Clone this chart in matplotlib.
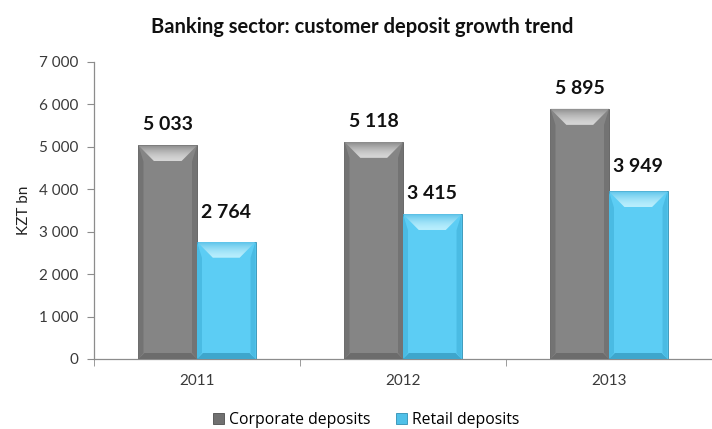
#!/usr/bin/env python3
# -*- coding: utf-8 -*-
"""Banking sector: customer deposit growth trend - bevelled bar chart"""
import matplotlib
matplotlib.use('Agg')
import matplotlib.pyplot as plt
import numpy as np
from matplotlib.colors import to_rgb, LinearSegmentedColormap
from matplotlib.patches import Polygon, Patch
from matplotlib.ticker import FuncFormatter, MultipleLocator

# --- data -------------------------------------------------------------
years = ["2011", "2012", "2013"]
corporate = [5033, 5118, 5895]
retail = [2764, 3415, 3949]
series_names = ["Corporate deposits", "Retail deposits"]

# --- style ------------------------------------------------------------
GRAY = dict(body="#858585", top0="#8a8a8a", top1="#d6d6d6", side="#737373",
            bottom="#6c6c6c", edge="#5a5a5a")
CYAN = dict(body="#5ccdf4", top0="#5ec4ea", top1="#b8eefd", side="#4abbe3",
            bottom="#3ea6cc", edge="#2f8fb3")
BAR_W = 0.284
BEVEL_TOP = 16   # px
BEVEL_BOT = 6    # px
BEVEL_SIDE = 5   # px
FONT = "Lato"

W, H, DPI = 7.12, 4.29, 100
fig = plt.figure(figsize=(W, H), dpi=DPI, facecolor="white")
ax = fig.add_axes([94 / 712, 1 - 359 / 429, (712 - 94) / 712, 297 / 429])
XLIM = (-0.5, 2.5 - 6 / 208)
YLIM = (0, 7000)
ax.set_xlim(*XLIM)
ax.set_ylim(*YLIM)


def _px_to_data(px, py):
    return ax.transData.inverted().transform((px, py))


def _gradient_poly(verts_px, c0, c1):
    """Fill a polygon (display px) with a vertical gradient c0 (top) -> c1 (bottom)."""
    verts = np.array([_px_to_data(x, y) for x, y in verts_px])
    poly = Polygon(verts, closed=True, facecolor="none", edgecolor="none",
                   transform=ax.transData)
    ax.add_patch(poly)
    cmap = LinearSegmentedColormap.from_list("g", [to_rgb(c1), to_rgb(c0)])
    grad = np.linspace(0, 1, 64).reshape(-1, 1) ** 1.6
    xmin, xmax = verts[:, 0].min(), verts[:, 0].max()
    ymin, ymax = verts[:, 1].min(), verts[:, 1].max()
    im = ax.imshow(grad, cmap=cmap, extent=[xmin, xmax, ymin, ymax], origin="lower",
                   aspect="auto", interpolation="bilinear", zorder=3)
    im.set_clip_path(poly)


def _solid_poly(verts_px, color, z=3):
    verts = np.array([_px_to_data(x, y) for x, y in verts_px])
    ax.add_patch(Polygon(verts, closed=True, facecolor=color, edgecolor="none", zorder=z))


def bevel(rect, st):
    x0d, y0d = rect.get_x(), rect.get_y()
    x1d, y1d = x0d + rect.get_width(), y0d + rect.get_height()
    (x0, y0) = ax.transData.transform((x0d, y0d))
    (x1, y1) = ax.transData.transform((x1d, y1d))
    b, s, d = BEVEL_TOP, BEVEL_BOT, BEVEL_SIDE
    # sides
    _solid_poly([(x0, y0), (x0 + d, y0 + s), (x0 + d, y1 - b), (x0, y1)], st["side"])
    _solid_poly([(x1, y0), (x1 - d, y0 + s), (x1 - d, y1 - b), (x1, y1)], st["side"])
    # bottom
    _solid_poly([(x0, y0), (x1, y0), (x1 - s, y0 + s), (x0 + s, y0 + s)], st["bottom"])
    # top highlight
    _gradient_poly([(x0, y1), (x1, y1), (x1 - b, y1 - b), (x0 + b, y1 - b)],
                   st["top0"], st["top1"])


x = np.arange(len(years))
bars_c = ax.bar(x - BAR_W / 2, corporate, BAR_W, color=GRAY["body"],
                edgecolor=GRAY["edge"], linewidth=0.6, zorder=2)
bars_r = ax.bar(x + BAR_W / 2, retail, BAR_W, color=CYAN["body"],
                edgecolor=CYAN["edge"], linewidth=0.6, zorder=2)

for r in bars_c:
    bevel(r, GRAY)
for r in bars_r:
    bevel(r, CYAN)

# value labels
fmt = lambda v: f"{v:,.0f}".replace(",", " ")
offsets_c = [15, 15, 15]
offsets_r = [21, 15, 18]
for bars, vals, offs in ((bars_c, corporate, offsets_c), (bars_r, retail, offsets_r)):
    for r, v, o in zip(bars, vals, offs):
        ax.annotate(fmt(v), (r.get_x() + r.get_width() / 2, v), xytext=(0, o),
                    textcoords="offset points", ha="center", va="center",
                    fontsize=14, fontweight="bold", family=FONT, color="#111111",
                    zorder=5)

ax.set_xlim(*XLIM)
ax.set_ylim(*YLIM)

# axes styling
for sp in ("top", "right"):
    ax.spines[sp].set_visible(False)
for sp in ("left", "bottom"):
    ax.spines[sp].set_color("#8c8c8c")
    ax.spines[sp].set_linewidth(0.9)

ax.yaxis.set_major_locator(MultipleLocator(1000))
ax.yaxis.set_major_formatter(FuncFormatter(lambda v, p: fmt(v)))
ax.tick_params(axis="y", direction="out", length=5, color="#8c8c8c",
               labelsize=11, labelcolor="#3a3a3a", pad=6)
ax.set_xticks(x)
ax.set_xticklabels(years)
ax.set_xticks([-0.5, 0.5, 1.5, 2.5], minor=True)
ax.tick_params(axis="x", which="major", length=0, labelsize=11,
               labelcolor="#3a3a3a", pad=11)
ax.tick_params(axis="x", which="minor", direction="out", length=5, color="#8c8c8c")
for lbl in ax.get_xticklabels() + ax.get_yticklabels():
    lbl.set_family(FONT)

ax.set_ylabel("KZT bn", fontsize=11, family=FONT, color="#222222", labelpad=6)

fig.text(362 / 712, 1 - 27 / 429, "Banking sector: customer deposit growth trend",
         ha="center", va="center", fontsize=14.5, fontweight="bold", family=FONT,
         color="#111111")

handles = [Patch(facecolor="#707070", edgecolor="#4e4e4e", linewidth=0.6),
           Patch(facecolor="#4fc0e8", edgecolor="#2f8fb3", linewidth=0.6)]
fig.legend(handles, series_names, loc="center", bbox_to_anchor=(366 / 712, 1 - 420 / 429),
           ncol=2, frameon=False, handlelength=0.75, handleheight=0.75,
           handletextpad=0.3, columnspacing=1.6,
           prop={"family": "Open Sans", "size": 11.3})

fig.savefig("out.png", dpi=DPI, facecolor="white")
